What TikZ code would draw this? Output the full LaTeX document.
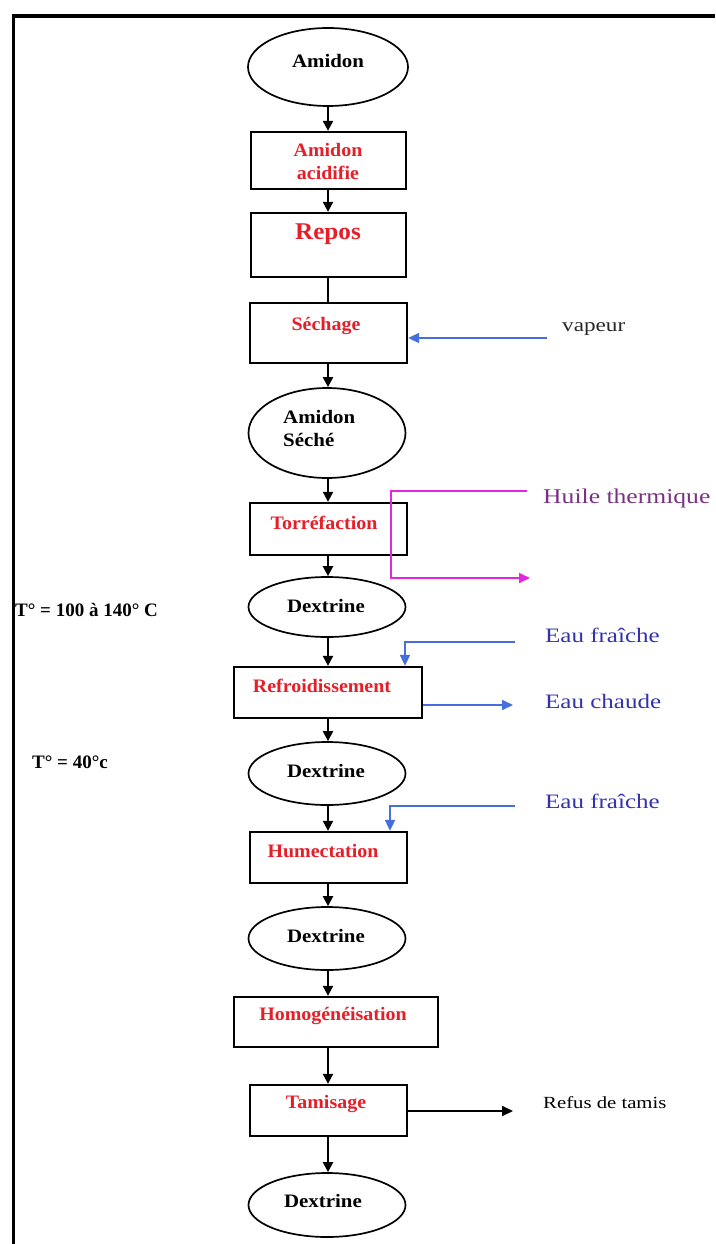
\documentclass[tikz,border=0pt]{standalone}
\usepackage{fontspec}
\setmainfont{Liberation Serif}
\newfontfamily\bkfont[FakeStretch=1.1]{Liberation Serif}
\newfontfamily\rdfont[FakeStretch=1.05]{Liberation Serif}
\newfontfamily\widefont[FakeStretch=1.22]{Liberation Serif}
\usetikzlibrary{shapes.geometric,arrows.meta}
\definecolor{myred}{RGB}{230,30,40}
\definecolor{bluetxt}{RGB}{50,50,170}
\definecolor{bluearr}{RGB}{70,110,220}
\definecolor{magline}{RGB}{225,40,225}
\definecolor{purptxt}{RGB}{120,50,130}
\tikzset{
  procbox/.style={draw, line width=2.3pt, rectangle, inner sep=0pt},
  oval/.style={draw, line width=1.7pt, ellipse, inner sep=0pt, minimum width=157pt},
  redlbl/.style={text=myred, font=\rdfont\bfseries\fontsize{19}{23}\selectfont, inner sep=0pt},
  blklbl/.style={font=\bkfont\bfseries\fontsize{19}{23}\selectfont, inner sep=0pt},
  templbl/.style={font=\bfseries\fontsize{19}{23}\selectfont, inner sep=0pt, anchor=west},
  bluelbl/.style={text=bluetxt, font=\widefont\fontsize{20.5}{24}\selectfont, inner sep=0pt, anchor=west},
  flow/.style={line width=2.1pt, -{Triangle[length=10pt,width=10pt]}},
  plainflow/.style={line width=2.1pt},
  blueflow/.style={draw=bluearr, line width=1.8pt, -{Triangle[length=11pt,width=10pt]}, bluearr},
  magflow/.style={draw=magline, line width=1.8pt, -{Triangle[length=11pt,width=10pt]}, magline},
  blackside/.style={line width=1.8pt, -{Triangle[length=11pt,width=10pt]}}
}
\begin{document}
\begin{tikzpicture}[x=1pt,y=-1pt]
\useasboundingbox (0,0) rectangle (715,1244);
% frame
\draw[line width=3.5pt] (715,16) -- (13.5,16) -- (13.5,1244);

% shapes
\node[oval, minimum width=160pt, minimum height=78pt] (e1) at (328,67) {};
\node[procbox, minimum width=155pt, minimum height=57pt] (b1) at (328.5,160.5) {};
\node[procbox, minimum width=155pt, minimum height=64pt] (b2) at (328.5,245) {};
\node[procbox, minimum width=157pt, minimum height=60pt] (b3) at (328.5,333) {};
\node[oval, minimum height=90pt] (e2) at (327,433) {};
\node[procbox, minimum width=157pt, minimum height=52pt] (b4) at (328.5,529) {};
\node[oval, minimum height=60pt] (e3) at (327,607) {};
\node[procbox, minimum width=188pt, minimum height=51pt] (b5) at (328,692.5) {};
\node[oval, minimum height=63pt] (e4) at (327,773.5) {};
\node[procbox, minimum width=157pt, minimum height=51pt] (b6) at (328.5,857.5) {};
\node[oval, minimum height=63pt] (e5) at (327,938.5) {};
\node[procbox, minimum width=204pt, minimum height=50pt] (b7) at (336,1022) {};
\node[procbox, minimum width=157pt, minimum height=51pt] (b8) at (328.5,1110.5) {};
\node[oval, minimum height=64pt] (e6) at (327,1205) {};

% labels
\node[blklbl] (te1) at (328,61) {Amidon};
\node[redlbl, align=center] (tb1) at (328,161.5) {Amidon\\acidifie};
\node[redlbl, font=\rdfont\bfseries\fontsize{24}{28}\selectfont] (tb2) at (328,234) {Repos};
\node[redlbl] (tb3) at (326,326) {Séchage};
\node[blklbl, align=left, anchor=west] (te2) at (283,428.5) {Amidon\\Séché};
\node[redlbl] (tb4) at (324,523) {Torréfaction};
\node[blklbl] (te3) at (326,606) {Dextrine};
\node[redlbl] (tb5) at (322,686) {Refroidissement};
\node[blklbl] (te4) at (326,771) {Dextrine};
\node[redlbl] (tb6) at (323,851) {Humectation};
\node[blklbl] (te5) at (326,936) {Dextrine};
\node[redlbl] (tb7) at (333,1016) {Homogénéisation};
\node[redlbl] (tb8) at (326,1104) {Tamisage};
\node[blklbl] (te6) at (323,1201) {Dextrine};

% side texts
\node[templbl] (tt1) at (15,610) {T° = 100 à 140° C};
\node[templbl] (tt2) at (32,762) {T° = 40°c};
\node[inner sep=0pt, anchor=west, text={rgb,255:red,40;green,40;blue,40}, font=\widefont\fontsize{19}{23}\selectfont] (tvap) at (562,329) {vapeur};
\node[inner sep=0pt, anchor=west, text=purptxt, font=\widefont\fontsize{21}{25}\selectfont] (thu) at (543,498) {Huile thermique};
\node[bluelbl] (tef1) at (545,635) {Eau fraîche};
\node[bluelbl] (tec) at (545,701) {Eau chaude};
\node[bluelbl] (tef2) at (545,801) {Eau fraîche};
\node[inner sep=0pt, anchor=west, font=\widefont\fontsize{17}{20}\selectfont] (trf) at (543,1103) {Refus de tamis};

% main flow (common axis x = 328)
\coordinate (axis) at (328,0);
\draw[flow] (axis |- e1.south) -- (axis |- b1.north);
\draw[flow] (axis |- b1.south) -- (axis |- b2.north);
\draw[plainflow] (axis |- b2.south) -- (axis |- b3.north);
\draw[flow] (axis |- b3.south) -- (axis |- e2.north);
\draw[flow] (axis |- e2.south) -- (axis |- b4.north);
\draw[flow] (axis |- b4.south) -- (axis |- e3.north);
\draw[flow] (axis |- e3.south) -- (axis |- b5.north);
\draw[flow] (axis |- b5.south) -- (axis |- e4.north);
\draw[flow] (axis |- e4.south) -- (axis |- b6.north);
\draw[flow] (axis |- b6.south) -- (axis |- e5.north);
\draw[flow] (axis |- e5.south) -- (axis |- b7.north);
\draw[flow] (axis |- b7.south) -- (axis |- b8.north);
\draw[flow] (axis |- b8.south) -- (axis |- e6.north);

% side connectors
\coordinate (vap) at (547,338);
\draw[blueflow] (vap) -- (vap -| b3.east);

\coordinate (hu1) at (527,491);
\coordinate (huk1) at (391,491);
\coordinate (huk2) at (391,578);
\coordinate (hu2) at (530,578);
\draw[magflow] (hu1) -- (huk1) -- (huk2) -- (hu2);

\coordinate (ef1) at (515,642);
\coordinate (ef1k) at (405,642);
\draw[blueflow] (ef1) -- (ef1k) -- (ef1k |- b5.north);

\coordinate (ec) at (513,705);
\draw[blueflow] (ec -| b5.east) -- (ec);

\coordinate (ef2) at (515,806);
\coordinate (ef2k) at (390,806);
\draw[blueflow] (ef2) -- (ef2k) -- (ef2k |- b6.north);

\coordinate (rf) at (513,1111);
\draw[blackside] (rf -| b8.east) -- (rf);
\end{tikzpicture}
\end{document}
